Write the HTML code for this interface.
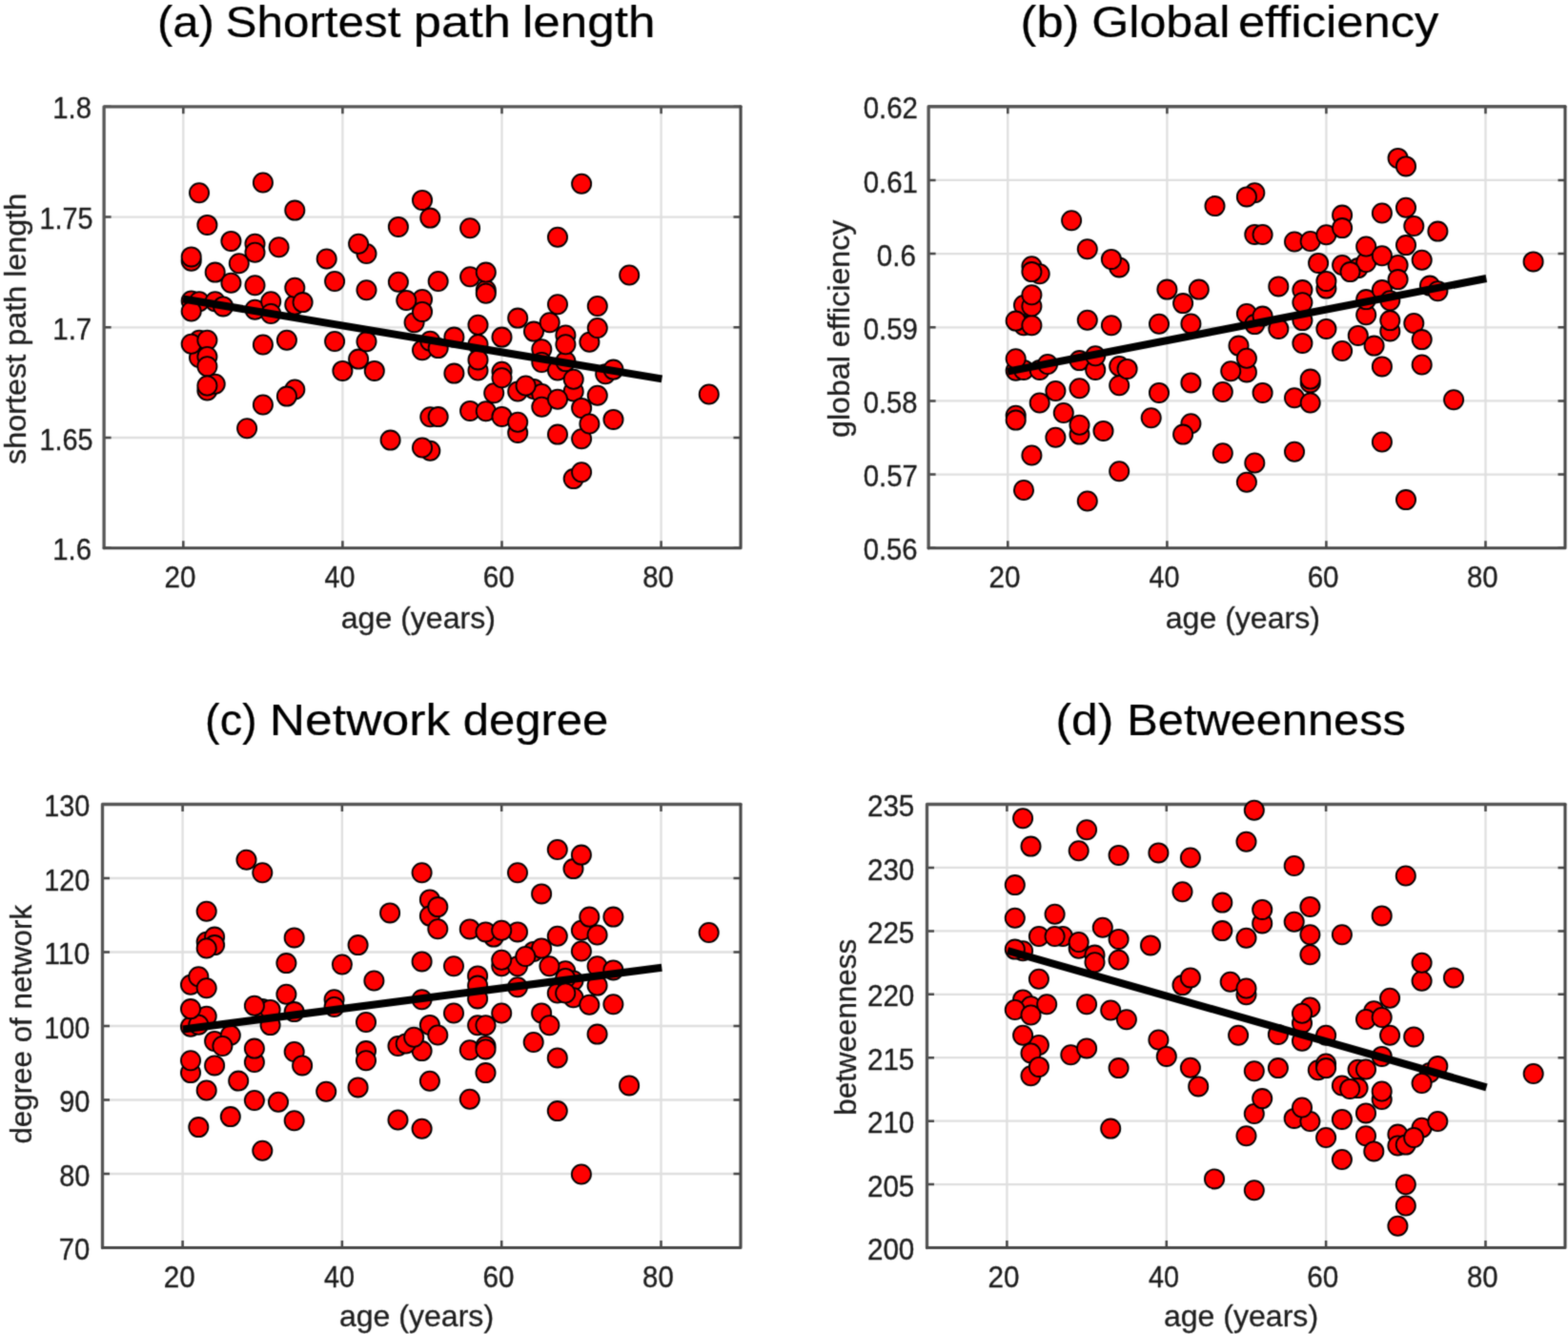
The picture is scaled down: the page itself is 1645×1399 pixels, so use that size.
<!DOCTYPE html>
<html lang="en"><head><meta charset="utf-8"><title>Network measures vs age</title>
<style>
html,body{margin:0;padding:0;background:#fff;}
body{width:1645px;height:1399px;overflow:hidden;}
svg{display:block;font-family:"Liberation Sans",sans-serif;}
.t{font-size:47px;fill:#000;stroke:#000;stroke-width:0.2;}
.k{font-size:32px;fill:#1c1c1c;stroke:#1c1c1c;stroke-width:0.35;}
.l{font-size:32px;fill:#1e1e1e;stroke:#1e1e1e;stroke-width:0.3;}
.g{stroke:#dfdfdf;stroke-width:2.3;fill:none;}
.ax{fill:none;stroke-linejoin:round;stroke-linecap:round;}
.a1{stroke:#555;stroke-width:3.3;}
.a2{stroke:#474747;stroke-width:3.1;}
.tk{stroke:#454545;stroke-width:2.5;fill:none;}
.d circle{fill:#ff0000;stroke:#000;stroke-width:1.8;}
.ln{stroke:#000;stroke-width:8.0;fill:none;}
</style></head><body>
<svg width="1645" height="1399" viewBox="0 0 1645 1399">
<defs><filter id="soft" x="0" y="0" width="1645" height="1399" filterUnits="userSpaceOnUse" color-interpolation-filters="sRGB"><feConvolveMatrix order="3" kernelMatrix="1 4 1 4 16 4 1 4 1" divisor="36" edgeMode="duplicate" preserveAlpha="true"/></filter></defs>
<g filter="url(#soft)">
<rect width="1645" height="1399" fill="#fff"/>
<g id="plot-a">
<path class="g" d="M192.3 111.8V574.7M359.4 111.8V574.7M526.5 111.8V574.7M693.6 111.8V574.7M109.1 227.6H777.0M109.1 343.3H777.0M109.1 459.0H777.0"/>
<path class="tk" d="M192.3 574.7v-7.5M192.3 111.8v7.5M359.4 574.7v-7.5M359.4 111.8v7.5M526.5 574.7v-7.5M526.5 111.8v7.5M693.6 574.7v-7.5M693.6 111.8v7.5M109.1 111.8h7.5M777.0 111.8h-7.5M109.1 227.6h7.5M777.0 227.6h-7.5M109.1 343.3h7.5M777.0 343.3h-7.5M109.1 459.0h7.5M777.0 459.0h-7.5M109.1 574.7h7.5M777.0 574.7h-7.5"/>
<path class="ax a1" d="M109.10 574.70V111.85H777.05"/>
<path class="ax a2" d="M777.05 111.85V574.70H109.10"/>
<g class="d">
<circle cx="200.7" cy="273.7" r="10.1"/>
<circle cx="200.7" cy="315.5" r="10.1"/>
<circle cx="209.0" cy="356.7" r="10.1"/>
<circle cx="209.0" cy="375.0" r="10.1"/>
<circle cx="217.4" cy="409.5" r="10.1"/>
<circle cx="225.7" cy="402.8" r="10.1"/>
<circle cx="267.5" cy="255.8" r="10.1"/>
<circle cx="309.3" cy="319.6" r="10.1"/>
<circle cx="309.3" cy="408.5" r="10.1"/>
<circle cx="384.5" cy="266.0" r="10.1"/>
<circle cx="443.0" cy="314.0" r="10.1"/>
<circle cx="451.3" cy="437.2" r="10.1"/>
<circle cx="451.3" cy="472.8" r="10.1"/>
<circle cx="501.5" cy="388.5" r="10.1"/>
<circle cx="509.8" cy="304.3" r="10.1"/>
<circle cx="526.5" cy="389.8" r="10.1"/>
<circle cx="543.2" cy="410.5" r="10.1"/>
<circle cx="543.2" cy="453.9" r="10.1"/>
<circle cx="560.0" cy="407.9" r="10.1"/>
<circle cx="568.3" cy="413.0" r="10.1"/>
<circle cx="593.4" cy="351.5" r="10.1"/>
<circle cx="601.7" cy="410.5" r="10.1"/>
<circle cx="601.7" cy="502.1" r="10.1"/>
<circle cx="635.2" cy="392.3" r="10.1"/>
<circle cx="200.7" cy="269.4" r="10.1"/>
<circle cx="200.7" cy="360.8" r="10.1"/>
<circle cx="209.0" cy="202.2" r="10.1"/>
<circle cx="209.0" cy="316.2" r="10.1"/>
<circle cx="217.4" cy="235.9" r="10.1"/>
<circle cx="217.4" cy="356.7" r="10.1"/>
<circle cx="217.4" cy="374.0" r="10.1"/>
<circle cx="217.4" cy="384.2" r="10.1"/>
<circle cx="225.7" cy="285.6" r="10.1"/>
<circle cx="225.7" cy="316.2" r="10.1"/>
<circle cx="234.1" cy="321.4" r="10.1"/>
<circle cx="242.4" cy="252.9" r="10.1"/>
<circle cx="242.4" cy="296.7" r="10.1"/>
<circle cx="250.8" cy="276.2" r="10.1"/>
<circle cx="259.1" cy="449.3" r="10.1"/>
<circle cx="267.5" cy="299.2" r="10.1"/>
<circle cx="267.5" cy="324.8" r="10.1"/>
<circle cx="275.9" cy="191.5" r="10.1"/>
<circle cx="275.9" cy="361.5" r="10.1"/>
<circle cx="275.9" cy="424.5" r="10.1"/>
<circle cx="284.2" cy="316.2" r="10.1"/>
<circle cx="284.2" cy="329.0" r="10.1"/>
<circle cx="292.6" cy="259.2" r="10.1"/>
<circle cx="300.9" cy="356.7" r="10.1"/>
<circle cx="309.3" cy="220.6" r="10.1"/>
<circle cx="309.3" cy="301.8" r="10.1"/>
<circle cx="342.7" cy="271.5" r="10.1"/>
<circle cx="351.1" cy="295.0" r="10.1"/>
<circle cx="351.1" cy="358.0" r="10.1"/>
<circle cx="359.4" cy="388.9" r="10.1"/>
<circle cx="376.1" cy="376.6" r="10.1"/>
<circle cx="384.5" cy="304.3" r="10.1"/>
<circle cx="384.5" cy="358.3" r="10.1"/>
<circle cx="392.8" cy="388.9" r="10.1"/>
<circle cx="409.6" cy="461.6" r="10.1"/>
<circle cx="417.9" cy="237.9" r="10.1"/>
<circle cx="417.9" cy="295.8" r="10.1"/>
<circle cx="426.3" cy="315.0" r="10.1"/>
<circle cx="434.6" cy="338.3" r="10.1"/>
<circle cx="443.0" cy="209.9" r="10.1"/>
<circle cx="443.0" cy="367.3" r="10.1"/>
<circle cx="451.3" cy="228.6" r="10.1"/>
<circle cx="451.3" cy="357.8" r="10.1"/>
<circle cx="459.7" cy="295.0" r="10.1"/>
<circle cx="459.7" cy="365.1" r="10.1"/>
<circle cx="476.4" cy="353.6" r="10.1"/>
<circle cx="476.4" cy="391.6" r="10.1"/>
<circle cx="493.1" cy="239.3" r="10.1"/>
<circle cx="493.1" cy="290.2" r="10.1"/>
<circle cx="493.1" cy="430.9" r="10.1"/>
<circle cx="501.5" cy="340.7" r="10.1"/>
<circle cx="501.5" cy="361.2" r="10.1"/>
<circle cx="509.8" cy="285.6" r="10.1"/>
<circle cx="509.8" cy="431.3" r="10.1"/>
<circle cx="518.2" cy="412.2" r="10.1"/>
<circle cx="526.5" cy="353.6" r="10.1"/>
<circle cx="526.5" cy="436.9" r="10.1"/>
<circle cx="543.2" cy="333.6" r="10.1"/>
<circle cx="560.0" cy="347.6" r="10.1"/>
<circle cx="568.3" cy="366.3" r="10.1"/>
<circle cx="568.3" cy="380.0" r="10.1"/>
<circle cx="568.3" cy="426.7" r="10.1"/>
<circle cx="576.7" cy="338.3" r="10.1"/>
<circle cx="585.0" cy="248.7" r="10.1"/>
<circle cx="585.0" cy="319.3" r="10.1"/>
<circle cx="585.0" cy="388.5" r="10.1"/>
<circle cx="585.0" cy="455.6" r="10.1"/>
<circle cx="593.4" cy="379.1" r="10.1"/>
<circle cx="610.1" cy="192.8" r="10.1"/>
<circle cx="610.1" cy="427.9" r="10.1"/>
<circle cx="610.1" cy="460.2" r="10.1"/>
<circle cx="618.4" cy="358.7" r="10.1"/>
<circle cx="618.4" cy="444.5" r="10.1"/>
<circle cx="626.8" cy="321.0" r="10.1"/>
<circle cx="626.8" cy="344.0" r="10.1"/>
<circle cx="626.8" cy="414.8" r="10.1"/>
<circle cx="643.5" cy="439.9" r="10.1"/>
<circle cx="660.2" cy="288.5" r="10.1"/>
<circle cx="743.8" cy="413.5" r="10.1"/>
<circle cx="200.7" cy="326.5" r="10.1"/>
<circle cx="217.4" cy="404.5" r="10.1"/>
<circle cx="267.5" cy="264.7" r="10.1"/>
<circle cx="300.9" cy="415.6" r="10.1"/>
<circle cx="317.6" cy="317.1" r="10.1"/>
<circle cx="376.1" cy="255.8" r="10.1"/>
<circle cx="443.0" cy="326.9" r="10.1"/>
<circle cx="443.0" cy="469.5" r="10.1"/>
<circle cx="459.7" cy="437.1" r="10.1"/>
<circle cx="501.5" cy="377.4" r="10.1"/>
<circle cx="509.8" cy="307.7" r="10.1"/>
<circle cx="526.5" cy="396.3" r="10.1"/>
<circle cx="543.2" cy="442.8" r="10.1"/>
<circle cx="551.6" cy="404.5" r="10.1"/>
<circle cx="585.0" cy="418.7" r="10.1"/>
<circle cx="593.4" cy="361.2" r="10.1"/>
<circle cx="601.7" cy="397.8" r="10.1"/>
<circle cx="610.1" cy="495.3" r="10.1"/>
<circle cx="643.5" cy="387.6" r="10.1"/>
</g>
<path class="ln" d="M192.0 313.5L694.4 397.4"/>
</g>
<g id="plot-b">
<path class="g" d="M1057.3 111.8V574.8M1224.4 111.8V574.8M1391.4 111.8V574.8M1558.5 111.8V574.8M974.1 188.9H1642.0M974.1 266.1H1642.0M974.1 343.3H1642.0M974.1 420.4H1642.0M974.1 497.6H1642.0"/>
<path class="tk" d="M1057.3 574.8v-7.5M1057.3 111.8v7.5M1224.4 574.8v-7.5M1224.4 111.8v7.5M1391.4 574.8v-7.5M1391.4 111.8v7.5M1558.5 574.8v-7.5M1558.5 111.8v7.5M974.1 111.8h7.5M1642.0 111.8h-7.5M974.1 188.9h7.5M1642.0 188.9h-7.5M974.1 266.1h7.5M1642.0 266.1h-7.5M974.1 343.3h7.5M1642.0 343.3h-7.5M974.1 420.4h7.5M1642.0 420.4h-7.5M974.1 497.6h7.5M1642.0 497.6h-7.5M974.1 574.8h7.5M1642.0 574.8h-7.5"/>
<path class="ax a1" d="M974.15 574.80V111.75H1642.00"/>
<path class="ax a2" d="M1642.00 111.75V574.80H974.15"/>
<g class="d">
<circle cx="1065.7" cy="435.8" r="10.1"/>
<circle cx="1065.7" cy="388.7" r="10.1"/>
<circle cx="1074.0" cy="341.3" r="10.1"/>
<circle cx="1074.0" cy="320.0" r="10.1"/>
<circle cx="1082.4" cy="279.2" r="10.1"/>
<circle cx="1090.7" cy="287.2" r="10.1"/>
<circle cx="1132.5" cy="455.6" r="10.1"/>
<circle cx="1174.2" cy="384.0" r="10.1"/>
<circle cx="1174.2" cy="280.4" r="10.1"/>
<circle cx="1249.4" cy="444.3" r="10.1"/>
<circle cx="1307.9" cy="390.4" r="10.1"/>
<circle cx="1316.3" cy="245.9" r="10.1"/>
<circle cx="1316.3" cy="202.3" r="10.1"/>
<circle cx="1366.4" cy="304.1" r="10.1"/>
<circle cx="1374.7" cy="401.4" r="10.1"/>
<circle cx="1391.4" cy="302.6" r="10.1"/>
<circle cx="1408.1" cy="278.0" r="10.1"/>
<circle cx="1408.1" cy="225.6" r="10.1"/>
<circle cx="1424.8" cy="281.1" r="10.1"/>
<circle cx="1433.2" cy="275.0" r="10.1"/>
<circle cx="1458.3" cy="347.4" r="10.1"/>
<circle cx="1466.6" cy="278.0" r="10.1"/>
<circle cx="1466.6" cy="165.9" r="10.1"/>
<circle cx="1500.0" cy="299.6" r="10.1"/>
<circle cx="1065.7" cy="440.6" r="10.1"/>
<circle cx="1065.7" cy="336.6" r="10.1"/>
<circle cx="1074.0" cy="514.0" r="10.1"/>
<circle cx="1074.0" cy="387.9" r="10.1"/>
<circle cx="1082.4" cy="477.5" r="10.1"/>
<circle cx="1082.4" cy="341.3" r="10.1"/>
<circle cx="1082.4" cy="321.2" r="10.1"/>
<circle cx="1082.4" cy="309.2" r="10.1"/>
<circle cx="1090.7" cy="422.5" r="10.1"/>
<circle cx="1090.7" cy="387.9" r="10.1"/>
<circle cx="1099.1" cy="382.0" r="10.1"/>
<circle cx="1107.4" cy="458.8" r="10.1"/>
<circle cx="1107.4" cy="410.0" r="10.1"/>
<circle cx="1115.8" cy="433.0" r="10.1"/>
<circle cx="1124.1" cy="231.2" r="10.1"/>
<circle cx="1132.5" cy="407.2" r="10.1"/>
<circle cx="1132.5" cy="378.1" r="10.1"/>
<circle cx="1140.8" cy="525.5" r="10.1"/>
<circle cx="1140.8" cy="335.8" r="10.1"/>
<circle cx="1140.8" cy="261.2" r="10.1"/>
<circle cx="1149.2" cy="387.9" r="10.1"/>
<circle cx="1149.2" cy="373.3" r="10.1"/>
<circle cx="1157.5" cy="451.9" r="10.1"/>
<circle cx="1165.9" cy="341.3" r="10.1"/>
<circle cx="1174.2" cy="494.2" r="10.1"/>
<circle cx="1174.2" cy="404.3" r="10.1"/>
<circle cx="1207.7" cy="438.2" r="10.1"/>
<circle cx="1216.0" cy="411.9" r="10.1"/>
<circle cx="1216.0" cy="339.8" r="10.1"/>
<circle cx="1224.4" cy="303.6" r="10.1"/>
<circle cx="1241.1" cy="318.1" r="10.1"/>
<circle cx="1249.4" cy="401.4" r="10.1"/>
<circle cx="1249.4" cy="339.5" r="10.1"/>
<circle cx="1257.8" cy="303.6" r="10.1"/>
<circle cx="1274.5" cy="216.1" r="10.1"/>
<circle cx="1282.8" cy="475.3" r="10.1"/>
<circle cx="1282.8" cy="411.0" r="10.1"/>
<circle cx="1291.2" cy="389.3" r="10.1"/>
<circle cx="1299.5" cy="362.6" r="10.1"/>
<circle cx="1307.9" cy="505.7" r="10.1"/>
<circle cx="1307.9" cy="329.0" r="10.1"/>
<circle cx="1316.3" cy="485.5" r="10.1"/>
<circle cx="1316.3" cy="340.1" r="10.1"/>
<circle cx="1324.6" cy="411.9" r="10.1"/>
<circle cx="1324.6" cy="331.6" r="10.1"/>
<circle cx="1341.3" cy="344.9" r="10.1"/>
<circle cx="1341.3" cy="300.4" r="10.1"/>
<circle cx="1358.0" cy="473.8" r="10.1"/>
<circle cx="1358.0" cy="417.3" r="10.1"/>
<circle cx="1358.0" cy="253.5" r="10.1"/>
<circle cx="1366.4" cy="359.9" r="10.1"/>
<circle cx="1366.4" cy="336.1" r="10.1"/>
<circle cx="1374.7" cy="422.5" r="10.1"/>
<circle cx="1374.7" cy="253.0" r="10.1"/>
<circle cx="1383.1" cy="275.9" r="10.1"/>
<circle cx="1391.4" cy="344.9" r="10.1"/>
<circle cx="1391.4" cy="246.2" r="10.1"/>
<circle cx="1408.1" cy="368.0" r="10.1"/>
<circle cx="1424.8" cy="351.9" r="10.1"/>
<circle cx="1433.2" cy="330.2" r="10.1"/>
<circle cx="1433.2" cy="314.1" r="10.1"/>
<circle cx="1433.2" cy="258.5" r="10.1"/>
<circle cx="1441.6" cy="362.6" r="10.1"/>
<circle cx="1449.9" cy="463.5" r="10.1"/>
<circle cx="1449.9" cy="384.4" r="10.1"/>
<circle cx="1449.9" cy="304.1" r="10.1"/>
<circle cx="1449.9" cy="223.5" r="10.1"/>
<circle cx="1458.3" cy="315.2" r="10.1"/>
<circle cx="1475.0" cy="524.1" r="10.1"/>
<circle cx="1475.0" cy="257.1" r="10.1"/>
<circle cx="1475.0" cy="217.8" r="10.1"/>
<circle cx="1483.3" cy="339.0" r="10.1"/>
<circle cx="1483.3" cy="237.0" r="10.1"/>
<circle cx="1491.7" cy="382.5" r="10.1"/>
<circle cx="1491.7" cy="356.1" r="10.1"/>
<circle cx="1491.7" cy="272.8" r="10.1"/>
<circle cx="1508.4" cy="242.6" r="10.1"/>
<circle cx="1525.1" cy="419.2" r="10.1"/>
<circle cx="1608.6" cy="274.4" r="10.1"/>
<circle cx="1065.7" cy="376.2" r="10.1"/>
<circle cx="1082.4" cy="285.1" r="10.1"/>
<circle cx="1132.5" cy="445.8" r="10.1"/>
<circle cx="1165.9" cy="271.9" r="10.1"/>
<circle cx="1182.6" cy="386.9" r="10.1"/>
<circle cx="1241.1" cy="455.6" r="10.1"/>
<circle cx="1307.9" cy="375.7" r="10.1"/>
<circle cx="1307.9" cy="206.4" r="10.1"/>
<circle cx="1324.6" cy="246.0" r="10.1"/>
<circle cx="1366.4" cy="317.2" r="10.1"/>
<circle cx="1374.7" cy="397.6" r="10.1"/>
<circle cx="1391.4" cy="294.9" r="10.1"/>
<circle cx="1408.1" cy="239.1" r="10.1"/>
<circle cx="1416.5" cy="285.1" r="10.1"/>
<circle cx="1449.9" cy="268.2" r="10.1"/>
<circle cx="1458.3" cy="336.1" r="10.1"/>
<circle cx="1466.6" cy="293.1" r="10.1"/>
<circle cx="1475.0" cy="174.4" r="10.1"/>
<circle cx="1508.4" cy="305.2" r="10.1"/>
</g>
<path class="ln" d="M1057.0 389.6L1559.4 292.0"/>
</g>
<g id="plot-c">
<path class="g" d="M191.6 843.5V1308.5M358.9 843.5V1308.5M526.2 843.5V1308.5M693.5 843.5V1308.5M107.5 921.0H777.0M107.5 998.5H777.0M107.5 1076.0H777.0M107.5 1153.5H777.0M107.5 1231.0H777.0"/>
<path class="tk" d="M191.6 1308.5v-7.5M191.6 843.5v7.5M358.9 1308.5v-7.5M358.9 843.5v7.5M526.2 1308.5v-7.5M526.2 843.5v7.5M693.5 1308.5v-7.5M693.5 843.5v7.5M107.5 843.5h7.5M777.0 843.5h-7.5M107.5 921.0h7.5M777.0 921.0h-7.5M107.5 998.5h7.5M777.0 998.5h-7.5M107.5 1076.0h7.5M777.0 1076.0h-7.5M107.5 1153.5h7.5M777.0 1153.5h-7.5M107.5 1231.0h7.5M777.0 1231.0h-7.5M107.5 1308.5h7.5M777.0 1308.5h-7.5"/>
<path class="ax a1" d="M107.50 1308.55V843.50H777.00"/>
<path class="ax a2" d="M777.00 843.50V1308.55H107.50"/>
<g class="d">
<circle cx="200.0" cy="1032.8" r="10.1"/>
<circle cx="200.0" cy="1076.8" r="10.1"/>
<circle cx="200.0" cy="1125.1" r="10.1"/>
<circle cx="216.7" cy="987.7" r="10.1"/>
<circle cx="216.7" cy="1065.7" r="10.1"/>
<circle cx="225.1" cy="982.6" r="10.1"/>
<circle cx="225.1" cy="1091.9" r="10.1"/>
<circle cx="241.8" cy="1085.7" r="10.1"/>
<circle cx="266.9" cy="1114.0" r="10.1"/>
<circle cx="275.3" cy="1058.1" r="10.1"/>
<circle cx="283.6" cy="1058.9" r="10.1"/>
<circle cx="308.7" cy="1103.0" r="10.1"/>
<circle cx="350.6" cy="1048.3" r="10.1"/>
<circle cx="384.0" cy="1102.1" r="10.1"/>
<circle cx="417.5" cy="1097.0" r="10.1"/>
<circle cx="442.6" cy="1102.1" r="10.1"/>
<circle cx="450.9" cy="943.4" r="10.1"/>
<circle cx="450.9" cy="960.6" r="10.1"/>
<circle cx="450.9" cy="1074.9" r="10.1"/>
<circle cx="492.8" cy="1101.3" r="10.1"/>
<circle cx="501.1" cy="1023.4" r="10.1"/>
<circle cx="501.1" cy="1075.3" r="10.1"/>
<circle cx="509.5" cy="1097.0" r="10.1"/>
<circle cx="517.9" cy="982.6" r="10.1"/>
<circle cx="526.2" cy="1013.2" r="10.1"/>
<circle cx="543.0" cy="977.4" r="10.1"/>
<circle cx="543.0" cy="1013.2" r="10.1"/>
<circle cx="559.7" cy="997.9" r="10.1"/>
<circle cx="568.1" cy="994.5" r="10.1"/>
<circle cx="568.1" cy="1062.4" r="10.1"/>
<circle cx="584.8" cy="1041.5" r="10.1"/>
<circle cx="593.2" cy="1018.3" r="10.1"/>
<circle cx="601.5" cy="911.1" r="10.1"/>
<circle cx="601.5" cy="1028.5" r="10.1"/>
<circle cx="601.5" cy="1046.2" r="10.1"/>
<circle cx="609.9" cy="975.7" r="10.1"/>
<circle cx="208.3" cy="1074.7" r="10.1"/>
<circle cx="208.3" cy="1182.1" r="10.1"/>
<circle cx="216.7" cy="955.7" r="10.1"/>
<circle cx="216.7" cy="1143.5" r="10.1"/>
<circle cx="225.1" cy="991.1" r="10.1"/>
<circle cx="225.1" cy="1117.4" r="10.1"/>
<circle cx="241.8" cy="1171.1" r="10.1"/>
<circle cx="250.2" cy="1133.6" r="10.1"/>
<circle cx="258.5" cy="901.7" r="10.1"/>
<circle cx="266.9" cy="1154.0" r="10.1"/>
<circle cx="275.3" cy="915.3" r="10.1"/>
<circle cx="275.3" cy="1206.8" r="10.1"/>
<circle cx="283.6" cy="1075.1" r="10.1"/>
<circle cx="292.0" cy="1155.7" r="10.1"/>
<circle cx="300.4" cy="1010.1" r="10.1"/>
<circle cx="300.4" cy="1042.7" r="10.1"/>
<circle cx="308.7" cy="983.4" r="10.1"/>
<circle cx="308.7" cy="1061.1" r="10.1"/>
<circle cx="308.7" cy="1175.3" r="10.1"/>
<circle cx="342.2" cy="1144.7" r="10.1"/>
<circle cx="350.6" cy="1056.0" r="10.1"/>
<circle cx="358.9" cy="1011.5" r="10.1"/>
<circle cx="375.6" cy="991.1" r="10.1"/>
<circle cx="375.6" cy="1140.4" r="10.1"/>
<circle cx="384.0" cy="1072.0" r="10.1"/>
<circle cx="392.4" cy="1028.5" r="10.1"/>
<circle cx="409.1" cy="957.4" r="10.1"/>
<circle cx="417.5" cy="1174.5" r="10.1"/>
<circle cx="425.8" cy="1094.5" r="10.1"/>
<circle cx="442.6" cy="915.3" r="10.1"/>
<circle cx="442.6" cy="1008.4" r="10.1"/>
<circle cx="442.6" cy="1048.3" r="10.1"/>
<circle cx="442.6" cy="1183.8" r="10.1"/>
<circle cx="450.9" cy="1133.8" r="10.1"/>
<circle cx="459.3" cy="974.2" r="10.1"/>
<circle cx="476.0" cy="1013.2" r="10.1"/>
<circle cx="476.0" cy="1062.5" r="10.1"/>
<circle cx="492.8" cy="974.4" r="10.1"/>
<circle cx="492.8" cy="1152.7" r="10.1"/>
<circle cx="501.1" cy="1033.6" r="10.1"/>
<circle cx="501.1" cy="1047.4" r="10.1"/>
<circle cx="509.5" cy="977.4" r="10.1"/>
<circle cx="509.5" cy="1125.1" r="10.1"/>
<circle cx="526.2" cy="1062.5" r="10.1"/>
<circle cx="543.0" cy="915.3" r="10.1"/>
<circle cx="543.0" cy="1035.3" r="10.1"/>
<circle cx="559.7" cy="1093.0" r="10.1"/>
<circle cx="568.1" cy="937.4" r="10.1"/>
<circle cx="576.4" cy="1013.2" r="10.1"/>
<circle cx="584.8" cy="891.0" r="10.1"/>
<circle cx="584.8" cy="981.7" r="10.1"/>
<circle cx="584.8" cy="1109.4" r="10.1"/>
<circle cx="584.8" cy="1165.1" r="10.1"/>
<circle cx="593.2" cy="1026.0" r="10.1"/>
<circle cx="609.9" cy="997.5" r="10.1"/>
<circle cx="609.9" cy="1231.5" r="10.1"/>
<circle cx="618.3" cy="1053.8" r="10.1"/>
<circle cx="626.6" cy="1013.2" r="10.1"/>
<circle cx="626.6" cy="1033.6" r="10.1"/>
<circle cx="626.6" cy="1084.6" r="10.1"/>
<circle cx="643.4" cy="961.6" r="10.1"/>
<circle cx="643.4" cy="1017.4" r="10.1"/>
<circle cx="643.4" cy="1053.2" r="10.1"/>
<circle cx="660.1" cy="1138.4" r="10.1"/>
<circle cx="743.7" cy="978.0" r="10.1"/>
<circle cx="200.0" cy="1058.1" r="10.1"/>
<circle cx="200.0" cy="1112.3" r="10.1"/>
<circle cx="208.3" cy="1024.3" r="10.1"/>
<circle cx="216.7" cy="994.5" r="10.1"/>
<circle cx="216.7" cy="1036.2" r="10.1"/>
<circle cx="233.4" cy="1097.0" r="10.1"/>
<circle cx="266.9" cy="1054.7" r="10.1"/>
<circle cx="266.9" cy="1099.6" r="10.1"/>
<circle cx="317.1" cy="1117.4" r="10.1"/>
<circle cx="384.0" cy="1112.3" r="10.1"/>
<circle cx="434.2" cy="1087.7" r="10.1"/>
<circle cx="459.3" cy="951.1" r="10.1"/>
<circle cx="459.3" cy="1085.5" r="10.1"/>
<circle cx="509.5" cy="1075.3" r="10.1"/>
<circle cx="509.5" cy="1100.4" r="10.1"/>
<circle cx="526.2" cy="975.7" r="10.1"/>
<circle cx="526.2" cy="1006.7" r="10.1"/>
<circle cx="551.3" cy="1003.0" r="10.1"/>
<circle cx="576.4" cy="1075.3" r="10.1"/>
<circle cx="593.2" cy="1041.5" r="10.1"/>
<circle cx="609.9" cy="896.6" r="10.1"/>
<circle cx="618.3" cy="961.6" r="10.1"/>
<circle cx="626.6" cy="980.5" r="10.1"/>
</g>
<path class="ln" d="M191.8 1079.5L694.3 1014.7"/>
</g>
<g id="plot-d">
<path class="g" d="M1056.4 843.5V1308.5M1223.8 843.5V1308.5M1391.1 843.5V1308.5M1558.5 843.5V1308.5M972.5 909.9H1642.0M972.5 976.4H1642.0M972.5 1042.8H1642.0M972.5 1109.2H1642.0M972.5 1175.7H1642.0M972.5 1242.1H1642.0"/>
<path class="tk" d="M1056.4 1308.5v-7.5M1056.4 843.5v7.5M1223.8 1308.5v-7.5M1223.8 843.5v7.5M1391.1 1308.5v-7.5M1391.1 843.5v7.5M1558.5 1308.5v-7.5M1558.5 843.5v7.5M972.5 843.5h7.5M1642.0 843.5h-7.5M972.5 909.9h7.5M1642.0 909.9h-7.5M972.5 976.4h7.5M1642.0 976.4h-7.5M972.5 1042.8h7.5M1642.0 1042.8h-7.5M972.5 1109.2h7.5M1642.0 1109.2h-7.5M972.5 1175.7h7.5M1642.0 1175.7h-7.5M972.5 1242.1h7.5M1642.0 1242.1h-7.5M972.5 1308.5h7.5M1642.0 1308.5h-7.5"/>
<path class="ax a1" d="M972.50 1308.55V843.50H1642.00"/>
<path class="ax a2" d="M1642.00 843.50V1308.55H972.50"/>
<g class="d">
<circle cx="1073.1" cy="997.3" r="10.1"/>
<circle cx="1073.1" cy="1048.4" r="10.1"/>
<circle cx="1081.5" cy="1055.2" r="10.1"/>
<circle cx="1081.5" cy="1128.3" r="10.1"/>
<circle cx="1089.9" cy="1096.0" r="10.1"/>
<circle cx="1115.0" cy="982.0" r="10.1"/>
<circle cx="1123.3" cy="1106.2" r="10.1"/>
<circle cx="1131.7" cy="994.8" r="10.1"/>
<circle cx="1148.5" cy="1001.6" r="10.1"/>
<circle cx="1240.5" cy="1033.1" r="10.1"/>
<circle cx="1307.5" cy="1043.3" r="10.1"/>
<circle cx="1315.8" cy="1168.0" r="10.1"/>
<circle cx="1324.2" cy="968.4" r="10.1"/>
<circle cx="1357.7" cy="1172.9" r="10.1"/>
<circle cx="1366.0" cy="1073.0" r="10.1"/>
<circle cx="1374.4" cy="1056.5" r="10.1"/>
<circle cx="1374.4" cy="1176.0" r="10.1"/>
<circle cx="1382.8" cy="1122.3" r="10.1"/>
<circle cx="1391.1" cy="1115.5" r="10.1"/>
<circle cx="1407.9" cy="1138.5" r="10.1"/>
<circle cx="1424.6" cy="1121.8" r="10.1"/>
<circle cx="1424.6" cy="1141.1" r="10.1"/>
<circle cx="1433.0" cy="1191.3" r="10.1"/>
<circle cx="1441.3" cy="1060.2" r="10.1"/>
<circle cx="1449.7" cy="1153.0" r="10.1"/>
<circle cx="1466.4" cy="1189.6" r="10.1"/>
<circle cx="1466.4" cy="1201.5" r="10.1"/>
<circle cx="1491.6" cy="1182.8" r="10.1"/>
<circle cx="1499.9" cy="1124.9" r="10.1"/>
<circle cx="1064.8" cy="928.1" r="10.1"/>
<circle cx="1064.8" cy="962.8" r="10.1"/>
<circle cx="1064.8" cy="995.6" r="10.1"/>
<circle cx="1064.8" cy="1059.0" r="10.1"/>
<circle cx="1073.1" cy="858.3" r="10.1"/>
<circle cx="1073.1" cy="1085.7" r="10.1"/>
<circle cx="1081.5" cy="887.6" r="10.1"/>
<circle cx="1089.9" cy="982.0" r="10.1"/>
<circle cx="1089.9" cy="1026.8" r="10.1"/>
<circle cx="1098.2" cy="1053.2" r="10.1"/>
<circle cx="1106.6" cy="958.7" r="10.1"/>
<circle cx="1131.7" cy="892.3" r="10.1"/>
<circle cx="1140.1" cy="870.2" r="10.1"/>
<circle cx="1140.1" cy="1053.2" r="10.1"/>
<circle cx="1156.8" cy="972.7" r="10.1"/>
<circle cx="1165.2" cy="1059.5" r="10.1"/>
<circle cx="1165.2" cy="1183.6" r="10.1"/>
<circle cx="1173.6" cy="896.9" r="10.1"/>
<circle cx="1173.6" cy="984.9" r="10.1"/>
<circle cx="1173.6" cy="1006.7" r="10.1"/>
<circle cx="1173.6" cy="1120.1" r="10.1"/>
<circle cx="1181.9" cy="1069.2" r="10.1"/>
<circle cx="1207.0" cy="991.4" r="10.1"/>
<circle cx="1215.4" cy="894.4" r="10.1"/>
<circle cx="1215.4" cy="1090.5" r="10.1"/>
<circle cx="1223.8" cy="1107.9" r="10.1"/>
<circle cx="1240.5" cy="935.2" r="10.1"/>
<circle cx="1248.9" cy="899.5" r="10.1"/>
<circle cx="1257.2" cy="1139.4" r="10.1"/>
<circle cx="1274.0" cy="1236.4" r="10.1"/>
<circle cx="1282.3" cy="946.6" r="10.1"/>
<circle cx="1282.3" cy="976.1" r="10.1"/>
<circle cx="1290.7" cy="1029.7" r="10.1"/>
<circle cx="1299.1" cy="1085.7" r="10.1"/>
<circle cx="1307.5" cy="882.8" r="10.1"/>
<circle cx="1307.5" cy="983.7" r="10.1"/>
<circle cx="1307.5" cy="1191.3" r="10.1"/>
<circle cx="1315.8" cy="849.7" r="10.1"/>
<circle cx="1315.8" cy="1123.2" r="10.1"/>
<circle cx="1315.8" cy="1248.3" r="10.1"/>
<circle cx="1340.9" cy="1084.9" r="10.1"/>
<circle cx="1340.9" cy="1120.1" r="10.1"/>
<circle cx="1357.7" cy="908.0" r="10.1"/>
<circle cx="1357.7" cy="966.7" r="10.1"/>
<circle cx="1366.0" cy="1091.7" r="10.1"/>
<circle cx="1374.4" cy="950.9" r="10.1"/>
<circle cx="1374.4" cy="980.3" r="10.1"/>
<circle cx="1374.4" cy="1001.3" r="10.1"/>
<circle cx="1391.1" cy="1085.7" r="10.1"/>
<circle cx="1391.1" cy="1193.0" r="10.1"/>
<circle cx="1407.9" cy="980.3" r="10.1"/>
<circle cx="1407.9" cy="1173.9" r="10.1"/>
<circle cx="1407.9" cy="1216.0" r="10.1"/>
<circle cx="1433.0" cy="1069.0" r="10.1"/>
<circle cx="1433.0" cy="1167.4" r="10.1"/>
<circle cx="1449.7" cy="960.4" r="10.1"/>
<circle cx="1449.7" cy="1107.9" r="10.1"/>
<circle cx="1458.1" cy="1085.7" r="10.1"/>
<circle cx="1466.4" cy="1285.7" r="10.1"/>
<circle cx="1474.8" cy="918.5" r="10.1"/>
<circle cx="1474.8" cy="1200.6" r="10.1"/>
<circle cx="1474.8" cy="1242.3" r="10.1"/>
<circle cx="1474.8" cy="1264.5" r="10.1"/>
<circle cx="1483.2" cy="1087.4" r="10.1"/>
<circle cx="1491.6" cy="1028.8" r="10.1"/>
<circle cx="1508.3" cy="1176.0" r="10.1"/>
<circle cx="1525.0" cy="1025.4" r="10.1"/>
<circle cx="1608.7" cy="1126.0" r="10.1"/>
<circle cx="1081.5" cy="1064.5" r="10.1"/>
<circle cx="1081.5" cy="1104.5" r="10.1"/>
<circle cx="1089.9" cy="1118.9" r="10.1"/>
<circle cx="1106.6" cy="982.0" r="10.1"/>
<circle cx="1131.7" cy="988.0" r="10.1"/>
<circle cx="1140.1" cy="1099.4" r="10.1"/>
<circle cx="1148.5" cy="1009.3" r="10.1"/>
<circle cx="1248.9" cy="1025.4" r="10.1"/>
<circle cx="1248.9" cy="1119.8" r="10.1"/>
<circle cx="1307.5" cy="1036.5" r="10.1"/>
<circle cx="1324.2" cy="953.9" r="10.1"/>
<circle cx="1324.2" cy="1152.1" r="10.1"/>
<circle cx="1366.0" cy="1062.8" r="10.1"/>
<circle cx="1366.0" cy="1161.5" r="10.1"/>
<circle cx="1391.1" cy="1120.1" r="10.1"/>
<circle cx="1416.2" cy="1141.9" r="10.1"/>
<circle cx="1433.0" cy="1121.5" r="10.1"/>
<circle cx="1441.3" cy="1207.4" r="10.1"/>
<circle cx="1449.7" cy="1067.0" r="10.1"/>
<circle cx="1449.7" cy="1144.5" r="10.1"/>
<circle cx="1458.1" cy="1046.7" r="10.1"/>
<circle cx="1483.2" cy="1193.0" r="10.1"/>
<circle cx="1491.6" cy="1009.8" r="10.1"/>
<circle cx="1491.6" cy="1136.0" r="10.1"/>
<circle cx="1508.3" cy="1118.1" r="10.1"/>
</g>
<path class="ln" d="M1057.0 997.0L1559.5 1140.3"/>
</g>
<g id="labels-a">
<text class="t" y="38.6"><tspan x="165.0" textLength="59.9" lengthAdjust="spacingAndGlyphs">(a)</tspan> <tspan x="236.5" textLength="184.0" lengthAdjust="spacingAndGlyphs">Shortest</tspan> <tspan x="433.8" textLength="102.3" lengthAdjust="spacingAndGlyphs">path</tspan> <tspan x="548.0" textLength="139.5" lengthAdjust="spacingAndGlyphs">length</tspan></text>
<text class="k" transform="translate(55.25 124.45) scale(0.9151 1)">1.8</text>
<text class="k" transform="translate(41.48 240.16) scale(0.9001 1)">1.75</text>
<text class="k" transform="translate(55.23 355.88) scale(0.9223 1)">1.7</text>
<text class="k" transform="translate(41.48 471.59) scale(0.9001 1)">1.65</text>
<text class="k" transform="translate(55.25 587.30) scale(0.9151 1)">1.6</text>
<text class="k" transform="translate(172.52 616.30) scale(0.9258 1)">20</text>
<text class="k" transform="translate(340.54 616.30) scale(0.8995 1)">40</text>
<text class="k" transform="translate(506.75 616.30) scale(0.9258 1)">60</text>
<text class="k" transform="translate(674.18 616.30) scale(0.9169 1)">80</text>
<text class="l" transform="translate(357.79 658.90) scale(1.0021 1)">age (years)</text>
<text class="l" transform="translate(27.4 486.9) rotate(-90) scale(1.0117 1)">shortest path length</text>
</g>
<g id="labels-b">
<text class="t" y="38.8"><tspan x="1070.6" textLength="61.9" lengthAdjust="spacingAndGlyphs">(b)</tspan> <tspan x="1145.2" textLength="145.1" lengthAdjust="spacingAndGlyphs">Global</tspan> <tspan x="1298.9" textLength="210.5" lengthAdjust="spacingAndGlyphs">efficiency</tspan></text>
<text class="k" transform="translate(905.67 124.35) scale(0.9191 1)">0.62</text>
<text class="k" transform="translate(905.67 201.53) scale(0.9191 1)">0.61</text>
<text class="k" transform="translate(919.86 278.70) scale(0.9252 1)">0.6</text>
<text class="k" transform="translate(905.67 355.88) scale(0.9191 1)">0.59</text>
<text class="k" transform="translate(905.67 433.05) scale(0.9142 1)">0.58</text>
<text class="k" transform="translate(905.67 510.23) scale(0.9191 1)">0.57</text>
<text class="k" transform="translate(905.67 587.40) scale(0.9142 1)">0.56</text>
<text class="k" transform="translate(1037.52 616.40) scale(0.9258 1)">20</text>
<text class="k" transform="translate(1205.49 616.40) scale(0.8995 1)">40</text>
<text class="k" transform="translate(1371.65 616.40) scale(0.9258 1)">60</text>
<text class="k" transform="translate(1539.03 616.40) scale(0.9169 1)">80</text>
<text class="l" transform="translate(1222.79 659.00) scale(1.0021 1)">age (years)</text>
<text class="l" transform="translate(891.0 459.0) rotate(-90) scale(1.0061 1)">global efficiency</text>
</g>
<g id="labels-c">
<text class="t" y="770.8"><tspan x="215.1" textLength="54.6" lengthAdjust="spacingAndGlyphs">(c)</tspan> <tspan x="282.7" textLength="189.6" lengthAdjust="spacingAndGlyphs">Network</tspan> <tspan x="485.7" textLength="152.6" lengthAdjust="spacingAndGlyphs">degree</tspan></text>
<text class="k" transform="translate(46.28 856.10) scale(0.9001 1)">130</text>
<text class="k" transform="translate(46.28 933.61) scale(0.9001 1)">120</text>
<text class="k" transform="translate(46.18 1011.12) scale(0.9450 1)">110</text>
<text class="k" transform="translate(46.28 1088.62) scale(0.9001 1)">100</text>
<text class="k" transform="translate(62.14 1166.13) scale(0.9048 1)">90</text>
<text class="k" transform="translate(62.14 1243.64) scale(0.9048 1)">80</text>
<text class="k" transform="translate(61.84 1321.15) scale(0.9136 1)">70</text>
<text class="k" transform="translate(171.82 1350.15) scale(0.9258 1)">20</text>
<text class="k" transform="translate(340.04 1350.15) scale(0.8995 1)">40</text>
<text class="k" transform="translate(506.45 1350.15) scale(0.9258 1)">60</text>
<text class="k" transform="translate(674.08 1350.15) scale(0.9169 1)">80</text>
<text class="l" transform="translate(355.97 1391.45) scale(1.0021 1)">age (years)</text>
<text class="l" transform="translate(33.2 1199.6) rotate(-90) scale(0.9792 1)">degree of network</text>
</g>
<g id="labels-d">
<text class="t" y="770.8"><tspan x="1107.4" textLength="60.9" lengthAdjust="spacingAndGlyphs">(d)</tspan> <tspan x="1182.3" textLength="292.6" lengthAdjust="spacingAndGlyphs">Betweenness</tspan></text>
<text class="k" transform="translate(909.92 856.10) scale(0.9263 1)">235</text>
<text class="k" transform="translate(909.92 922.54) scale(0.9263 1)">230</text>
<text class="k" transform="translate(909.92 988.97) scale(0.9263 1)">225</text>
<text class="k" transform="translate(909.92 1055.41) scale(0.9263 1)">220</text>
<text class="k" transform="translate(909.92 1121.84) scale(0.9263 1)">215</text>
<text class="k" transform="translate(909.92 1188.28) scale(0.9263 1)">210</text>
<text class="k" transform="translate(909.92 1254.71) scale(0.9263 1)">205</text>
<text class="k" transform="translate(909.92 1321.15) scale(0.9263 1)">200</text>
<text class="k" transform="translate(1036.62 1350.15) scale(0.9258 1)">20</text>
<text class="k" transform="translate(1204.89 1350.15) scale(0.8995 1)">40</text>
<text class="k" transform="translate(1371.35 1350.15) scale(0.9258 1)">60</text>
<text class="k" transform="translate(1539.03 1350.15) scale(0.9169 1)">80</text>
<text class="l" transform="translate(1220.97 1391.45) scale(1.0021 1)">age (years)</text>
<text class="l" transform="translate(897.7 1169.8) rotate(-90) scale(0.9812 1)">betweenness</text>
</g>
</g>
</svg></body></html>
